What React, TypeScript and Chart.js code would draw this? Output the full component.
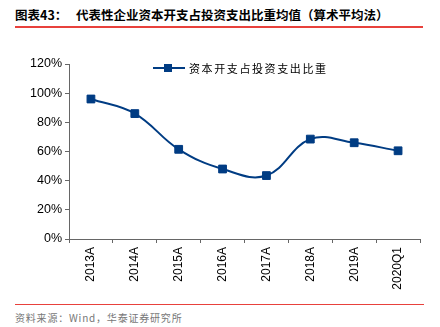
import React, { useEffect, useRef } from "react";
import { Chart, registerables } from "chart.js";

Chart.register(...registerables);

const categories = ["2013A", "2014A", "2015A", "2016A", "2017A", "2018A", "2019A", "2020Q1"];
const values = [96, 86, 61.5, 48, 43.5, 68.5, 66, 60.5];
const yTicks = [0, 20, 40, 60, 80, 100, 120];
const seriesName = "资本开支占投资支出比重";
const titleLabel = "图表43：";
const titleText = "代表性企业资本开支占投资支出比重均值（算术平均法）";
const sourceText = "资料来源：Wind，华泰证券研究所";

const BLUE = "#003c83";
const RED = "#e8413c";

export default function App() {
  const ref = useRef<HTMLCanvasElement>(null);
  useEffect(() => {
    document.body.style.margin = "0";
    const ctx = ref.current!;
    const chart = new Chart(ctx, {
      type: "line",
      data: {
        labels: categories,
        datasets: [
          {
            label: seriesName,
            data: values,
            borderColor: BLUE,
            backgroundColor: BLUE,
            borderWidth: 2,
            tension: 0.4,
            pointStyle: "rect",
            pointRadius: 5.5,
            pointBackgroundColor: BLUE,
            pointBorderColor: BLUE,
            pointBorderWidth: 1,
          },
        ],
      },
      options: {
        animation: false,
        responsive: false,
        maintainAspectRatio: false,
        layout: { padding: { left: 0, right: 20, top: 24, bottom: 0 } },
        plugins: { legend: { display: false }, tooltip: { enabled: false } },
        scales: {
          x: {
            offset: true,
            grid: {
              display: true,
              offset: true,
              drawOnChartArea: false,
              drawTicks: true,
              tickLength: 4,
              color: "#666",
            },
            border: { display: true, color: "#666", width: 1 },
            ticks: {
              maxRotation: 90,
              minRotation: 90,
              color: "#000",
              font: { family: "'Liberation Sans', Arial, sans-serif", size: 12 },
              padding: 4,
            },
            afterFit: (s: any) => {
              s.height = 61;
            },
          },
          y: {
            min: 0,
            max: 120,
            afterBuildTicks: (s: any) => {
              s.ticks = yTicks.map((v) => ({ value: v }));
            },
            grid: {
              display: true,
              drawOnChartArea: false,
              drawTicks: true,
              tickLength: 4,
              color: "#666",
            },
            border: { display: true, color: "#666", width: 1 },
            ticks: {
              color: "#000",
              font: { family: "'Liberation Sans', Arial, sans-serif", size: 12.5 },
              padding: 3,
              callback: (v: any) => v + "%",
            },
            afterFit: (s: any) => {
              s.width = 69;
            },
          },
        },
      },
    });
    return () => chart.destroy();
  }, []);

  return (
    <div
      style={{
        position: "absolute",
        left: 0,
        top: 0,
        width: 440,
        height: 327,
        background: "#fff",
        fontFamily: "'Noto Sans CJK SC', sans-serif",
      }}
    >
      <div
        style={{
          position: "absolute",
          left: 15,
          top: 6,
          fontSize: 12.5,
          fontWeight: "bold",
          whiteSpace: "nowrap",
          lineHeight: "18px",
          color: "#000",
        }}
      >
        <span style={{ display: "inline-block", width: 61 }}>{titleLabel}</span>
        <span>{titleText}</span>
      </div>
      <div style={{ position: "absolute", left: 15, top: 26, width: 408, height: 1.5, background: RED }} />
      <canvas
        ref={ref}
        width={440}
        height={260}
        style={{ position: "absolute", left: 0, top: 40, width: 440, height: 260 }}
      />
      <div style={{ position: "absolute", left: 153, top: 67, width: 32, height: 2, background: BLUE }} />
      <div style={{ position: "absolute", left: 164, top: 64, width: 8, height: 8, background: BLUE }} />
      <div
        style={{
          position: "absolute",
          left: 189,
          top: 60,
          fontSize: 11,
          letterSpacing: 1.6,
          lineHeight: "16px",
          whiteSpace: "nowrap",
          color: "#000",
        }}
      >
        {seriesName}
      </div>
      <div style={{ position: "absolute", left: 15, top: 303.5, width: 409, height: 1.5, background: RED }} />
      <div
        style={{
          position: "absolute",
          left: 15,
          top: 310,
          fontSize: 10,
          letterSpacing: 0.8,
          lineHeight: "16px",
          whiteSpace: "nowrap",
          color: "#777",
        }}
      >
        {sourceText}
      </div>
    </div>
  );
}
